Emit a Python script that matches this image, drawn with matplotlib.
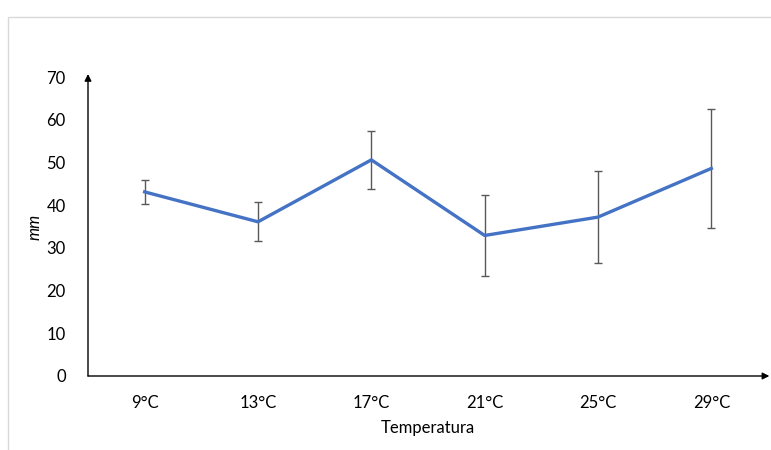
import matplotlib
matplotlib.use("Agg")
import matplotlib.pyplot as plt
from matplotlib.patches import Rectangle

# data
temps = ["9°C", "13°C", "17°C", "21°C", "25°C", "29°C"]
mm_mean = [43.1, 36.1, 50.6, 32.9, 37.2, 48.6]
mm_err = [2.8, 4.6, 6.8, 9.5, 10.7, 14.0]

plt.rcParams["font.family"] = ["Lato", "DejaVu Sans"]

fig = plt.figure(figsize=(7.71, 4.5), dpi=100)
# light chart-area frame
fig.patches.append(Rectangle((8 / 771, -0.1), 1.0, 1 - 17 / 450 + 0.1,
                             transform=fig.transFigure, fill=False,
                             ec="#d9d9d9", lw=1))

ax = fig.add_axes([88 / 771, 1 - 376 / 450, 680 / 771, 299 / 450])
x = range(len(temps))
ax.errorbar(x, mm_mean, yerr=mm_err, color="#4472C4", lw=2.4,
            ecolor="#595959", elinewidth=1, capsize=3, capthick=1)

ax.set_xlim(-0.5, len(temps) - 0.5)
ax.set_ylim(0, 70)
ax.set_yticks(range(0, 71, 10))
ax.set_xticks(list(x))
ax.set_xticklabels(temps)
ax.tick_params(length=0, labelsize=12, colors="black")
ax.tick_params(axis="x", pad=14)
ax.tick_params(axis="y", pad=16)

for s in ["top", "right", "left", "bottom"]:
    ax.spines[s].set_visible(False)
# axes drawn as arrows
ax.annotate("", xy=(0, 1.01), xytext=(0, 0), xycoords="axes fraction",
            arrowprops=dict(arrowstyle="-|>", color="black", lw=1,
                            mutation_scale=10, shrinkA=0, shrinkB=0))
ax.annotate("", xy=(1.002, 0), xytext=(0, 0), xycoords="axes fraction",
            arrowprops=dict(arrowstyle="-|>", color="black", lw=1,
                            mutation_scale=10, shrinkA=0, shrinkB=0))

ax.set_ylabel("mm", fontsize=12, style="italic", labelpad=3)
ax.set_xlabel("Temperatura", fontsize=12, labelpad=6)

fig.savefig("out.png", dpi=100)
